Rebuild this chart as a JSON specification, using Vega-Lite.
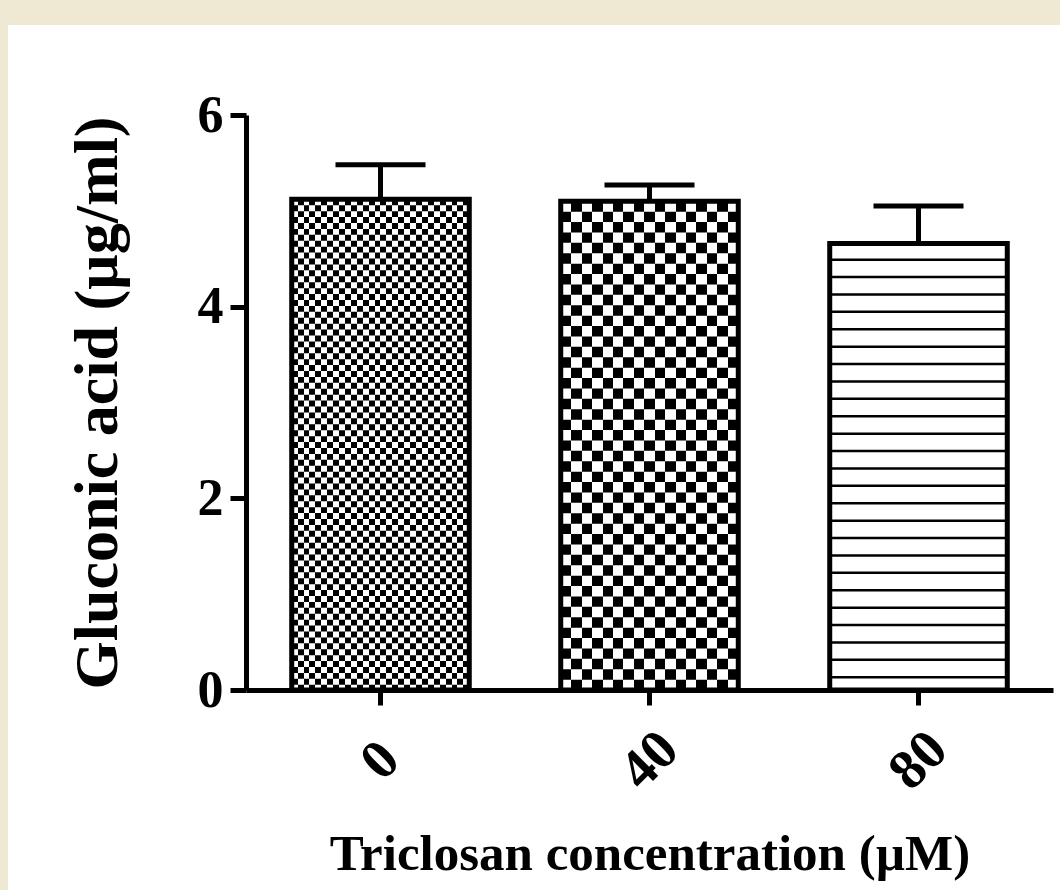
{
  "$schema": "https://vega.github.io/schema/vega-lite/v6.json",
  "background": "white",
  "padding": 0,
  "spacing": 0,
  "bounds": "full",
  "config": {"view": {"stroke": null}, "font": "Liberation Serif"},
  "vconcat": [
    {
      "width": 1060, "height": 25,
      "view": {"fill": "#EFE8D3", "stroke": null},
      "data": {"values": [{}]},
      "mark": {"type": "point", "opacity": 0}
    },
    {
      "spacing": 58,
      "bounds": "full",
      "align": "none",
      "columns": 2,
      "concat": [
        {
          "width": 8, "height": 865,
          "view": {"fill": "#EFE8D3", "stroke": null},
          "data": {"values": [{}]},
          "mark": {"type": "point", "opacity": 0}
        },
        {
          "width": 807, "height": 665,
          "data": {"values": [
            {"conc": "0", "mean": 5.12, "upper": 5.48},
            {"conc": "40", "mean": 5.10, "upper": 5.27},
            {"conc": "80", "mean": 4.66, "upper": 5.05}
          ]},
          "encoding": {
            "x": {
              "field": "conc", "type": "nominal", "sort": ["0", "40", "80"],
              "scale": {"paddingInner": 0.34, "paddingOuter": 0.17},
              "title": "Triclosan concentration (µM)",
              "axis": {
                "labelAngle": -45, "labelAlign": "center", "labelBaseline": "middle",
                "labelPadding": 55, "labelFontSize": 56, "labelFontWeight": "bold",
                "labelFont": "Liberation Serif", "labelColor": "#000", "labelOverlap": false,
                "tickColor": "#000", "tickWidth": 5, "tickSize": 15,
                "domainColor": "#000", "domainWidth": 5,
                "titleFont": "Liberation Serif", "titleFontSize": 51, "titleFontWeight": "bold",
                "titleColor": "#000", "titlePadding": 30
              }
            }
          },
          "layer": [
            {
              "transform": [{"filter": "datum.conc == '0'"}],
              "mark": {"type": "bar", "stroke": null, "fill": {"gradient": "linear", "x1": 0, "y1": 0, "x2": 1, "y2": 0, "stops": [
                {"offset": 0, "color": "#000"},
                {"offset": 0.0333, "color": "#000"}, {"offset": 0.0333, "color": "#fff"},
                {"offset": 0.0667, "color": "#fff"}, {"offset": 0.0667, "color": "#000"},
                {"offset": 0.1, "color": "#000"}, {"offset": 0.1, "color": "#fff"},
                {"offset": 0.1333, "color": "#fff"}, {"offset": 0.1333, "color": "#000"},
                {"offset": 0.1667, "color": "#000"}, {"offset": 0.1667, "color": "#fff"},
                {"offset": 0.2, "color": "#fff"}, {"offset": 0.2, "color": "#000"},
                {"offset": 0.2333, "color": "#000"}, {"offset": 0.2333, "color": "#fff"},
                {"offset": 0.2667, "color": "#fff"}, {"offset": 0.2667, "color": "#000"},
                {"offset": 0.3, "color": "#000"}, {"offset": 0.3, "color": "#fff"},
                {"offset": 0.3333, "color": "#fff"}, {"offset": 0.3333, "color": "#000"},
                {"offset": 0.3667, "color": "#000"}, {"offset": 0.3667, "color": "#fff"},
                {"offset": 0.4, "color": "#fff"}, {"offset": 0.4, "color": "#000"},
                {"offset": 0.4333, "color": "#000"}, {"offset": 0.4333, "color": "#fff"},
                {"offset": 0.4667, "color": "#fff"}, {"offset": 0.4667, "color": "#000"},
                {"offset": 0.5, "color": "#000"}, {"offset": 0.5, "color": "#fff"},
                {"offset": 0.5333, "color": "#fff"}, {"offset": 0.5333, "color": "#000"},
                {"offset": 0.5667, "color": "#000"}, {"offset": 0.5667, "color": "#fff"},
                {"offset": 0.6, "color": "#fff"}, {"offset": 0.6, "color": "#000"},
                {"offset": 0.6333, "color": "#000"}, {"offset": 0.6333, "color": "#fff"},
                {"offset": 0.6667, "color": "#fff"}, {"offset": 0.6667, "color": "#000"},
                {"offset": 0.7, "color": "#000"}, {"offset": 0.7, "color": "#fff"},
                {"offset": 0.7333, "color": "#fff"}, {"offset": 0.7333, "color": "#000"},
                {"offset": 0.7667, "color": "#000"}, {"offset": 0.7667, "color": "#fff"},
                {"offset": 0.8, "color": "#fff"}, {"offset": 0.8, "color": "#000"},
                {"offset": 0.8333, "color": "#000"}, {"offset": 0.8333, "color": "#fff"},
                {"offset": 0.8667, "color": "#fff"}, {"offset": 0.8667, "color": "#000"},
                {"offset": 0.9, "color": "#000"}, {"offset": 0.9, "color": "#fff"},
                {"offset": 0.9333, "color": "#fff"}, {"offset": 0.9333, "color": "#000"},
                {"offset": 0.9667, "color": "#000"}, {"offset": 0.9667, "color": "#fff"},
                {"offset": 1, "color": "#fff"}
              ]}},
              "encoding": {
                "y": {
                  "field": "mean", "type": "quantitative",
                  "title": "Gluconic acid (µg/ml)",
                  "scale": {"domain": [0, 6], "nice": false, "range": [665, 90]},
                  "axis": {
                    "values": [0, 2, 4, 6], "format": "d", "grid": false,
                    "domainColor": "#000", "domainWidth": 5,
                    "tickColor": "#000", "tickWidth": 5, "tickSize": 16,
                    "labelFont": "Liberation Serif", "labelFontSize": 52, "labelFontWeight": "bold",
                    "labelColor": "#000", "labelPadding": 7,
                    "titleFont": "Liberation Serif", "titleFontSize": 62, "titleFontWeight": "bold",
                    "titleColor": "#000", "titlePadding": 68
                  }
                }
              }
            },
            {
              "transform": [{"filter": "datum.conc == '40'"}],
              "mark": {"type": "bar", "stroke": null, "fill": {"gradient": "linear", "x1": 0, "y1": 0, "x2": 1, "y2": 0, "stops": [
                {"offset": 0, "color": "#000"},
                {"offset": 0.0588, "color": "#000"}, {"offset": 0.0588, "color": "#fff"},
                {"offset": 0.1176, "color": "#fff"}, {"offset": 0.1176, "color": "#000"},
                {"offset": 0.1765, "color": "#000"}, {"offset": 0.1765, "color": "#fff"},
                {"offset": 0.2353, "color": "#fff"}, {"offset": 0.2353, "color": "#000"},
                {"offset": 0.2941, "color": "#000"}, {"offset": 0.2941, "color": "#fff"},
                {"offset": 0.3529, "color": "#fff"}, {"offset": 0.3529, "color": "#000"},
                {"offset": 0.4118, "color": "#000"}, {"offset": 0.4118, "color": "#fff"},
                {"offset": 0.4706, "color": "#fff"}, {"offset": 0.4706, "color": "#000"},
                {"offset": 0.5294, "color": "#000"}, {"offset": 0.5294, "color": "#fff"},
                {"offset": 0.5882, "color": "#fff"}, {"offset": 0.5882, "color": "#000"},
                {"offset": 0.6471, "color": "#000"}, {"offset": 0.6471, "color": "#fff"},
                {"offset": 0.7059, "color": "#fff"}, {"offset": 0.7059, "color": "#000"},
                {"offset": 0.7647, "color": "#000"}, {"offset": 0.7647, "color": "#fff"},
                {"offset": 0.8235, "color": "#fff"}, {"offset": 0.8235, "color": "#000"},
                {"offset": 0.8824, "color": "#000"}, {"offset": 0.8824, "color": "#fff"},
                {"offset": 0.9412, "color": "#fff"}, {"offset": 0.9412, "color": "#000"},
                {"offset": 1, "color": "#000"}
              ]}},
              "encoding": {"y": {"field": "mean", "type": "quantitative", "title": "Gluconic acid (µg/ml)"}}
            },
            {
              "transform": [{"filter": "datum.conc == '80'"}],
              "mark": {"type": "bar", "stroke": null, "fill": "#fff"},
              "encoding": {"y": {"field": "mean", "type": "quantitative", "title": "Gluconic acid (µg/ml)"}}
            },
            {
              "transform": [{"filter": "datum.conc == '0'"}],
              "mark": {"type": "rule", "color": "#fff", "strokeWidth": 177.5, "strokeCap": "butt", "strokeDash": [5.92, 5.92], "blend": "difference"},
              "encoding": {"y": {"field": "mean", "type": "quantitative", "title": "Gluconic acid (µg/ml)"}, "y2": {"datum": 0}}
            },
            {
              "transform": [{"filter": "datum.conc == '40'"}],
              "mark": {"type": "rule", "color": "#fff", "strokeWidth": 177.5, "strokeCap": "butt", "strokeDash": [10.4, 10.4], "blend": "difference"},
              "encoding": {"y": {"field": "mean", "type": "quantitative", "title": "Gluconic acid (µg/ml)"}, "y2": {"datum": 0}}
            },
            {
              "transform": [{"filter": "datum.conc == '80'"}],
              "mark": {"type": "rule", "color": "#000", "strokeWidth": 177.5, "strokeCap": "butt", "strokeDash": [2.5, 14.9], "strokeDashOffset": 2.4},
              "encoding": {"y": {"field": "mean", "type": "quantitative", "title": "Gluconic acid (µg/ml)"}, "y2": {"datum": 0}}
            },
            {
              "mark": {"type": "bar", "fill": "#fff", "fillOpacity": 0, "stroke": "#000", "strokeWidth": 5},
              "encoding": {"y": {"field": "mean", "type": "quantitative", "title": "Gluconic acid (µg/ml)"}}
            },
            {
              "mark": {"type": "rule", "color": "#000", "strokeWidth": 5},
              "encoding": {"y": {"field": "mean", "type": "quantitative", "title": "Gluconic acid (µg/ml)"}, "y2": {"field": "upper"}}
            },
            {
              "mark": {"type": "tick", "color": "#000", "opacity": 1, "size": 90, "thickness": 5, "orient": "horizontal"},
              "encoding": {"y": {"field": "upper", "type": "quantitative", "title": "Gluconic acid (µg/ml)"}}
            }
          ]
        }
      ]
    }
  ]
}
